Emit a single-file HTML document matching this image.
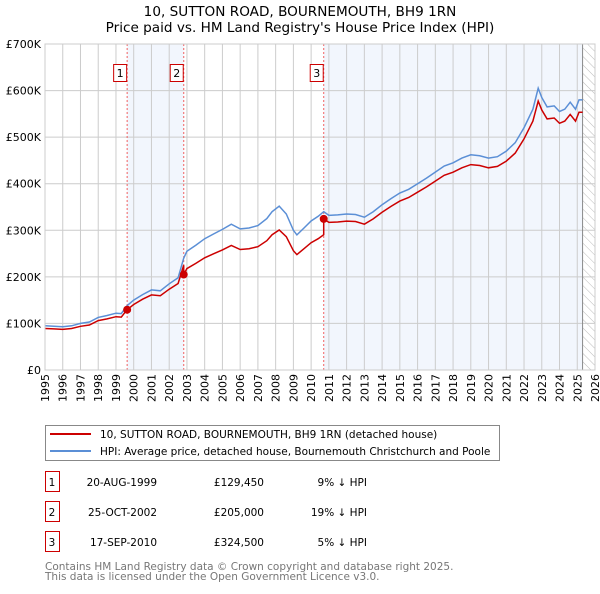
<!DOCTYPE html>
<html><head><meta charset="utf-8"><style>
body{margin:0;background:#fff;font-family:"DejaVu Sans","Liberation Sans",sans-serif;}
svg text{font-family:"DejaVu Sans","Liberation Sans",sans-serif;}
</style></head><body>
<svg id="chart" width="600" height="590" xmlns="http://www.w3.org/2000/svg">
<defs><pattern id="hatch" width="6" height="6" patternUnits="userSpaceOnUse" patternTransform="rotate(-45)"><line x1="0" y1="0" x2="0" y2="6" stroke="#bbb" stroke-width="1"/></pattern></defs>
<text x="300" y="16" text-anchor="middle" font-size="13.6">10, SUTTON ROAD, BOURNEMOUTH, BH9 1RN</text>
<text x="300" y="32" text-anchor="middle" font-size="13.6">Price paid vs. HM Land Registry's House Price Index (HPI)</text>
<g id="plot"></g>
<g>
<rect x="45.5" y="425.5" width="454" height="35" fill="#fff" stroke="#888"/>
<line x1="50" y1="434" x2="91" y2="434" stroke="#cc0000" stroke-width="2"/>
<text x="100" y="438" font-size="10.5">10, SUTTON ROAD, BOURNEMOUTH, BH9 1RN (detached house)</text>
<line x1="50" y1="451" x2="91" y2="451" stroke="#5b8fd6" stroke-width="2"/>
<text x="100" y="455" font-size="10.5">HPI: Average price, detached house, Bournemouth Christchurch and Poole</text>
</g>
<g id="table" font-size="10.5"></g>
<text x="45" y="570" font-size="10.5" fill="#777">Contains HM Land Registry data © Crown copyright and database right 2025.</text>
<text x="45" y="580" font-size="10.5" fill="#777">This data is licensed under the Open Government Licence v3.0.</text>
</svg>
<script>
const hpiYears=[1995,1995.5,1996,1996.5,1997,1997.5,1998,1998.5,1999,1999.3,1999.63,2000,2000.5,2001,2001.5,2002,2002.5,2002.82,2003,2003.5,2004,2004.5,2005,2005.5,2006,2006.5,2007,2007.5,2007.8,2008.2,2008.6,2009,2009.2,2009.6,2010,2010.4,2010.71,2011,2011.5,2012,2012.5,2013,2013.5,2014,2014.5,2015,2015.5,2016,2016.5,2017,2017.5,2018,2018.5,2019,2019.5,2020,2020.5,2021,2021.5,2022,2022.5,2022.8,2023,2023.3,2023.7,2024,2024.3,2024.6,2024.9,2025.1,2025.3];
const hpiValues=[95,94,93,95,100,103,113,117,122,121,138,150,162,172,170,185,198,240,255,268,282,292,302,313,303,305,310,325,340,352,335,300,290,305,320,330,340,332,333,335,334,328,340,355,368,380,388,400,412,425,438,445,455,462,460,455,458,470,488,520,560,605,585,565,567,555,560,575,560,580,580];
const saleDates=[1999.63,2002.82,2010.71];
const salePrices=[129450,205000,324500];
const saleLabels=["20-AUG-1999","25-OCT-2002","17-SEP-2010"];
const salePriceText=["£129,450","£205,000","£324,500"];
const saleHpiText=["9% ↓ HPI","19% ↓ HPI","5% ↓ HPI"];
const yTicks=[0,100,200,300,400,500,600,700];
const yTickLabels=["£0","£100K","£200K","£300K","£400K","£500K","£600K","£700K"];
const xYears=[1995,1996,1997,1998,1999,2000,2001,2002,2003,2004,2005,2006,2007,2008,2009,2010,2011,2012,2013,2014,2015,2016,2017,2018,2019,2020,2021,2022,2023,2024,2025,2026];

const X0=45,X1=595,Y0=370,Y1=44;
const x=t=>X0+(t-1995)/(2026-1995)*(X1-X0);
const y=v=>Y0-v/700*(Y0-Y1);
const NS="http://www.w3.org/2000/svg";
function mk(tag,attrs,parent){const e=document.createElementNS(NS,tag);for(const k in attrs)e.setAttribute(k,attrs[k]);parent.appendChild(e);return e;}
const P=document.getElementById('plot');
function hpiAt(t){for(let i=1;i<hpiYears.length;i++){if(t<=hpiYears[i]){const a=hpiYears[i-1],b=hpiYears[i];return hpiValues[i-1]+(hpiValues[i]-hpiValues[i-1])*(t-a)/(b-a);}}return hpiValues[hpiValues.length-1];}
let s1=mk('rect',{x:x(saleDates[0]),y:Y1,width:x(saleDates[1])-x(saleDates[0]),height:Y0-Y1,fill:'#f2f6fd'},P);


let s2=mk('rect',{x:x(saleDates[2]),y:Y1,width:x(2025.3)-x(saleDates[2]),height:Y0-Y1,fill:'#f2f6fd'},P);


let hz=mk('rect',{x:x(2025.3),y:Y1,width:X1-x(2025.3),height:Y0-Y1,fill:'url(#hatch)'},P);


xYears.forEach((yr,i)=>{
 mk('line',{x1:x(yr),y1:Y1,x2:x(yr),y2:Y0,stroke:'#ccc','stroke-width':1},P);
 const t=mk('text',{x:0,y:0,'text-anchor':'end','font-size':11,transform:'translate('+(x(yr)+4)+','+(Y0+4)+') rotate(-90)'},P);t.textContent=yr;
 
 
});
yTicks.forEach((v,i)=>{
 mk('line',{x1:X0,y1:y(v),x2:X1,y2:y(v),stroke:'#ccc','stroke-width':1},P);
 const t=mk('text',{x:X0-4,y:y(v)+4,'text-anchor':'end','font-size':11},P);t.textContent=yTickLabels[i];
 
 
});
mk('line',{x1:x(2025.3),y1:Y1,x2:x(2025.3),y2:Y0,stroke:'#888','stroke-width':1},P);
saleDates.forEach((d,i)=>{
 const l=mk('line',{x1:x(d),y1:Y1,x2:x(d),y2:Y0,stroke:'#f06060','stroke-width':1,'stroke-dasharray':'2,2'},P);
 
 
 const b=mk('rect',{x:x(d)-13.5,y:64.5,width:13,height:17,fill:'#fff',stroke:'#cc0000'},P);
 
 
 const t=mk('text',{x:x(d)-7,y:77,'text-anchor':'middle','font-size':11},P);t.textContent=i+1;
});
const hp=hpiYears.map((t,i)=>x(t).toFixed(1)+','+y(hpiValues[i]).toFixed(1)).join(' ');
const hl=mk('polyline',{points:hp,fill:'none',stroke:'#5b8fd6','stroke-width':1.5},P);


const pts=[];
hpiYears.forEach((t,i)=>{
 let k=0;for(let j=0;j<saleDates.length;j++)if(t>=saleDates[j])k=j;
 const f=salePrices[k]/1000/hpiAt(saleDates[k]);
 pts.push([t,hpiValues[i]*f]);
});
saleDates.forEach((d,k)=>{
 if(k>0){const fp=salePrices[k-1]/1000/hpiAt(saleDates[k-1]);pts.push([d-0.001,hpiAt(d)*fp]);}
 pts.push([d,salePrices[k]/1000]);
});
pts.sort((a,b)=>a[0]-b[0]);
const rl=mk('polyline',{points:pts.map(p=>x(p[0]).toFixed(1)+','+y(p[1]).toFixed(1)).join(' '),fill:'none',stroke:'#cc0000','stroke-width':1.5},P);


saleDates.forEach((d,k)=>{
 const c=mk('circle',{cx:x(d),cy:y(salePrices[k]/1000),r:4,fill:'#cc0000'},P);
 
 
});
mk('rect',{x:X0,y:Y1,width:X1-X0,height:Y0-Y1,fill:'none',stroke:'#ccc'},P);
const T=document.getElementById('table');
saleLabels.forEach((lab,i)=>{
 const yy=483+i*30;
 const b=mk('rect',{x:45.5,y:yy-11.5,width:14,height:20,fill:'#fff',stroke:'#cc0000'},T);
 
 
 let t=mk('text',{x:52,y:yy+3,'text-anchor':'middle'},T);t.textContent=i+1;
 t=mk('text',{x:157,y:yy+3,'text-anchor':'end'},T);t.textContent=lab;
 
 
 t=mk('text',{x:264,y:yy+3,'text-anchor':'end'},T);t.textContent=salePriceText[i];
 
 
 t=mk('text',{x:367,y:yy+3,'text-anchor':'end'},T);t.textContent=saleHpiText[i];
 
 
});
</script>
</body></html>
